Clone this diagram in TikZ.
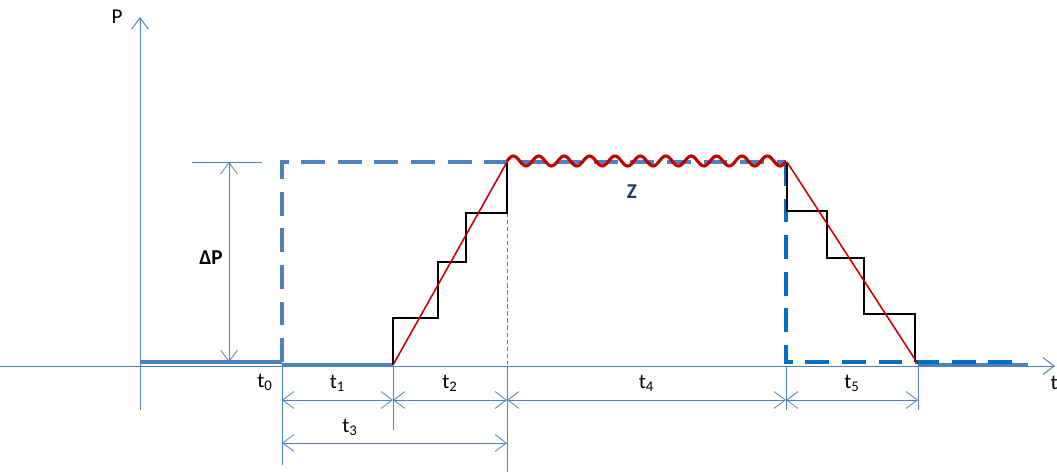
\documentclass[tikz,border=0pt]{standalone}
\usepackage{fontspec}
\setmainfont{Carlito}
\usetikzlibrary{arrows.meta}
\definecolor{axisblue}{HTML}{4F81BD}
\definecolor{stepblue}{HTML}{0070C0}
\definecolor{rampred}{HTML}{C00000}
\definecolor{zblue}{HTML}{1F3864}

\begin{document}
\begin{tikzpicture}[x=0.025cm, y=-0.025cm, font=\fontsize{15}{17}\selectfont,
  axis/.style={axisblue, line width=0.7pt},
  dim/.style={axisblue, line width=0.6pt},
  setp/.style={axisblue, line width=2.6pt, dash pattern=on 17pt off 9pt},
  setr/.style={stepblue, line width=2.6pt, dash pattern=on 17pt off 9pt},
  stair/.style={black, line width=1.4pt},
  ramp/.style={rampred, line width=1.1pt},
  lbl/.style={inner sep=1pt, text=black},
  >={Straight Barb[length=8pt,width=12pt]}]
\useasboundingbox (0,0) rectangle (1057,472);
% axes
\coordinate (O) at (140,366);
\coordinate (ytop) at (140,17);
\coordinate (ybot) at (140,410);
\coordinate (xl) at (0,366);
\coordinate (xr) at (1055,366);
\draw[axis,->] (ybot) -- (ytop);
\draw[axis,->] (xl) -- (xr);
\node[lbl] (P) at (117,17) {P};
\node[lbl, anchor=west] (t) at (1049,383) {t};
% time marks on the axis
\coordinate (a0) at (282,366);
\coordinate (a1) at (393,366);
\coordinate (a2) at (507,366);
\coordinate (a4) at (786,366);
\coordinate (a5) at (918,366);
% extension lines
\draw[dim] (a0) -- (282,465);
\draw[dim] (a1) -- (393,430);
\draw[dim] (a2) -- (507,472);
\draw[dim] (a4) -- (786,410);
\draw[dim] (a5) -- (918,410);
\draw[dim, densely dashed] (507,213) -- (a2);
% baseline
\draw[axisblue, line width=3pt] (140,362) -- (282,362);
\draw[axisblue, line width=2pt] (282,364.5) -- (393,364.5);
\draw[axisblue, line width=2pt] (918,364.5) -- (1028,364.5);
% set point
\draw[setp] (282,362) -- (282,162) -- (786,162);
\draw[setr] (786,162) -- (786,362) -- (1012,362);
% delta P
\draw[dim] (192,162) -- (262,162);
\draw[dim,<->] (229,162) -- (229,362);
\node[lbl, font=\fontsize{15}{17}\selectfont\bfseries] (dP) at (211,258) {ΔP};
% staircases
\draw[stair] (393,365) -- (393,318) -- (438,318) -- (438,262) -- (466,262)
  -- (466,213) -- (507,213) -- (507,163);
\draw[stair] (787,163) -- (787,211) -- (827,211) -- (827,258) -- (864,258)
  -- (864,314) -- (915,314) -- (915,362);
% ramps
\draw[ramp] (393,365) -- (507,162);
\draw[ramp, line width=2.2pt] plot[domain=507:786, samples=240]
  (\x, {161-5*sin((\x-507)/25.4*360)});
\draw[ramp] (787,162) -- (918,364);
\node[lbl, text=zblue, font=\fontsize{15}{17}\selectfont\bfseries] (Z) at (632,192) {Z};
% durations
\draw[dim,<->] (282,400) -- node[lbl, above=5pt] (l1) {t\textsubscript{1}} (393,400);
\draw[dim,<->] (393,400) -- node[lbl, above=5pt] (l2) {t\textsubscript{2}} (507,400);
\draw[dim,<->] (507,400) -- node[lbl, above=5pt] (l4) {t\textsubscript{4}} (786,400);
\draw[dim,<->] (786,400) -- node[lbl, above=5pt] (l5) {t\textsubscript{5}} (918,400);
\draw[dim,<->] (282,443) -- (507,443);
\node[lbl] (l3) at (350,427) {t\textsubscript{3}};
\node[lbl] (l0) at (265,382) {t\textsubscript{0}};
\end{tikzpicture}
\end{document}
